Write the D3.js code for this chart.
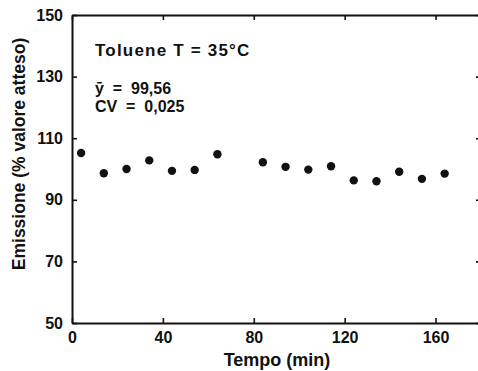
<!DOCTYPE html>
<html><head><meta charset="utf-8">
<script src="https://cdn.jsdelivr.net/npm/d3@7"></script>
<style>body{margin:0;background:#fff}svg{display:block}text{font-family:"Liberation Sans",Arial,sans-serif;fill:#111}</style>
</head><body>
<script>
const times = [4, 14, 24, 34, 44, 54, 64, 84, 94, 104, 114, 124, 134, 144, 154, 164];
const emission = [105.2, 98.6, 100.0, 102.8, 99.4, 99.7, 104.8, 102.2, 100.7, 99.8, 100.9, 96.3, 96.0, 99.1, 96.8, 98.5];
const xTicks = [0, 40, 80, 120, 160];
const yTicks = [50, 70, 90, 110, 130, 150];
const annot = ["Toluene T = 35°C", "ȳ  =  99,56", "CV  =  0,025"];

const W = 478, H = 371;
const m = {left: 72, right: -3, top: 15, bottom: 48};
const svg = d3.select("body").append("svg").attr("width", W).attr("height", H);
const x = d3.scaleLinear().domain([0, 180]).range([m.left, W - m.right]);
const y = d3.scaleLinear().domain([50, 150]).range([H - m.bottom, m.top]);

const g = svg.append("g");
const styleAxis = sel => { sel.select(".domain").attr("stroke", "#111").attr("stroke-width", 2);
  sel.selectAll(".tick line").attr("stroke", "#111").attr("stroke-width", 1.6);
  sel.selectAll(".tick text").attr("fill", "#111").style("font-size", "16px").style("font-weight", "bold").style("font-family", "'Liberation Sans',Arial,sans-serif"); };

g.append("g").attr("transform", `translate(0,${y(50)})`)
  .call(d3.axisBottom(x).tickValues(xTicks).tickSizeInner(-5).tickSizeOuter(0).tickPadding(9))
  .call(styleAxis);
g.append("g").attr("transform", `translate(0,${y(150)})`)
  .call(d3.axisTop(x).tickValues(xTicks).tickSizeInner(-5).tickSizeOuter(0).tickFormat(""))
  .call(styleAxis);
g.append("g").attr("transform", `translate(${x(0)},0)`)
  .call(d3.axisLeft(y).tickValues(yTicks).tickSizeInner(-5).tickSizeOuter(0).tickPadding(9))
  .call(styleAxis);
g.append("g").attr("transform", `translate(${x(180)},0)`)
  .call(d3.axisRight(y).tickValues(yTicks).tickSizeInner(-5).tickSizeOuter(0).tickFormat(""))
  .call(styleAxis);

svg.append("g").selectAll("circle").data(times).join("circle")
  .attr("cx", (d) => x(d)).attr("cy", (d, i) => y(emission[i])).attr("r", 4.2).attr("fill", "#111");

svg.append("text").attr("x", 95).attr("y", 56).style("font-size", "17px").style("font-weight", "bold").style("letter-spacing", "1.2px").text(annot[0]);
svg.append("text").attr("x", 95).attr("y", 94).style("font-size", "16px").style("font-weight", "bold").attr("xml:space","preserve").text(annot[1]);
svg.append("text").attr("x", 95).attr("y", 112).style("font-size", "16px").style("font-weight", "bold").attr("xml:space","preserve").text(annot[2]);

svg.append("text").attr("x", 277).attr("y", 366).attr("text-anchor", "middle").style("font-size", "18px").style("font-weight", "bold").text("Tempo (min)");
svg.append("text").attr("transform", "translate(25,154) rotate(-90)").attr("text-anchor", "middle").style("font-size", "17.5px").style("font-weight", "bold").text("Emissione (% valore atteso)");
</script>
</body></html>
